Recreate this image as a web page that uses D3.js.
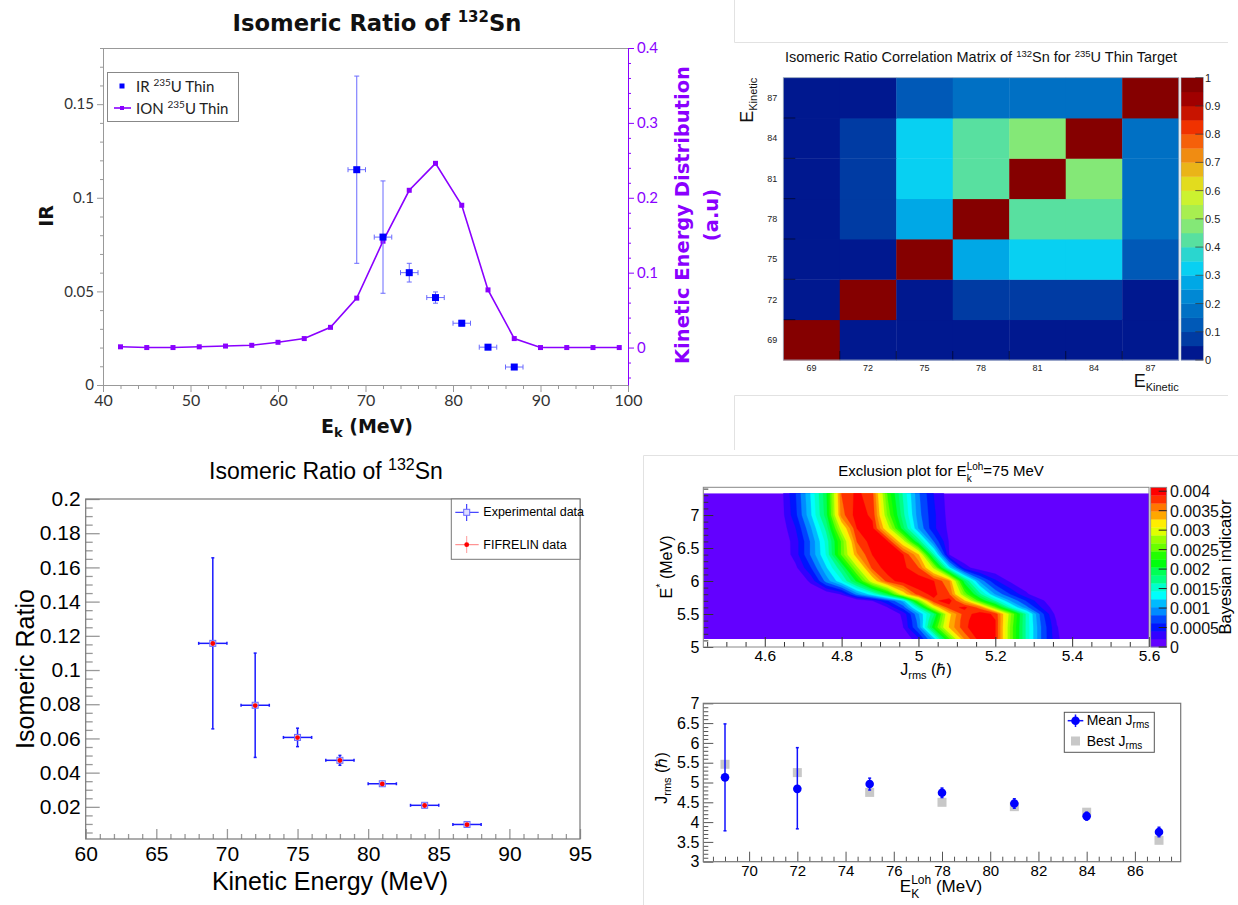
<!DOCTYPE html>
<html><head><meta charset="utf-8">
<script src="https://cdn.jsdelivr.net/npm/d3@7"></script>
<style>body{margin:0;background:#fff} svg{display:block}</style>
</head><body>
<svg id="chart" width="1238" height="905"></svg>
<script>
// ================= DATA =================
// Panel 1 : Isomeric ratio + kinetic energy distribution
const ionEnergy = [42,45,48,51,54,57,60,63,66,69,72,75,78,81,84,87,90,93,96,99];
const ionValues = [0.001,0,0,0.001,0.002,0.003,0.007,0.012,0.027,0.066,0.142,0.210,0.246,0.190,0.077,0.012,0,0,0,0];
const irEnergy = [69,72,75,78,81,84,87];
const irValues = [0.115,0.079,0.060,0.0467,0.033,0.0202,0.0096];
const irErrors = [0.050,0.030,0.005,0.003,0.0015,0.001,0.0008];
const irEnergyErr = [1,1,1,1,1,1,1];
const p1XTicks = [40,50,60,70,80,90,100];
const p1YTicks = [0,0.05,0.1,0.15];
const p1YLabels = ["0","0.05","0.1","0.15"];
const p1Y2Ticks = [0,0.1,0.2,0.3,0.4];
const p1Y2Labels = ["0","0.1","0.2","0.3","0.4"];

// Panel 2 : correlation matrix
const corrEnergy = [69,72,75,78,81,84,87];
const corrMatrix = [
  [1.00,0.02,0.02,0.02,0.02,0.02,0.02],
  [0.02,1.00,0.02,0.08,0.08,0.08,0.02],
  [0.02,0.02,1.00,0.28,0.33,0.33,0.13],
  [0.02,0.08,0.28,1.00,0.43,0.43,0.18],
  [0.02,0.08,0.33,0.43,1.00,0.48,0.18],
  [0.02,0.08,0.33,0.43,0.48,1.00,0.18],
  [0.02,0.02,0.13,0.18,0.18,0.18,1.00]
];
const corrBarTicks = [0,0.1,0.2,0.3,0.4,0.5,0.6,0.7,0.8,0.9,1];
const corrBarLabels = ["0","0.1","0.2","0.3","0.4","0.5","0.6","0.7","0.8","0.9","1"];

// Panel 3 : isomeric ratio, experiment vs FIFRELIN
const expEnergy = [69,72,75,78,81,84,87];
const expValues = [0.1156,0.0794,0.0606,0.0472,0.0335,0.0209,0.0097];
const expErrors = [0.050,0.0305,0.0054,0.0029,0.0013,0.0008,0.0006];
const expEnergyErr = [1,1,1,1,1,1,1];
const fifrelinValues = [0.1155,0.0792,0.0605,0.0471,0.0334,0.0208,0.0096];
const p3XTicks = [60,65,70,75,80,85,90,95];
const p3YTicks = [0.02,0.04,0.06,0.08,0.1,0.12,0.14,0.16,0.18,0.2];
const p3YLabels = ["0.02","0.04","0.06","0.08","0.1","0.12","0.14","0.16","0.18","0.2"];

// Panel 4 : exclusion plot (Bayesian indicator, units of 1e-3)
const jrmsGrid = [4.44,4.48,4.52,4.56,4.60,4.64,4.68,4.72,4.76,4.80,4.84,4.88,4.92,4.96,5.00,5.04,5.08,5.12,5.16,5.20,5.24,5.28,5.32,5.36,5.40,5.44,5.48,5.52,5.56,5.60];
const eStarRows = [5.12,5.3,5.4,5.5,5.6,5.7,5.8,6.0,6.2,6.4,6.6,6.8,7.0,7.33];
const ridgeStart = [4.96,4.92,4.92,4.92,4.88,4.84,4.76,4.68,4.64,4.64,4.64,4.64,4.64,4.64];
const ridgeValues = [
  [0,0.35,1.1,2.4,3.5,4.0,3.9,2.6,1.6,0.8,0.25,0],
  [0,0.2,0.85,2.2,3.3,3.85,4.05,3.9,2.6,1.6,0.8,0.22,0],
  [0,0.22,0.9,2.0,3.25,3.85,4.0,3.9,2.65,1.6,0.75,0.18,0],
  [0,0.25,1.0,1.8,3.2,3.8,4.0,3.85,2.7,1.6,0.7,0.1,0],
  [0,0.2,0.7,1.6,3.0,3.8,3.95,3.6,2.5,1.5,0.9,0.4,0.05,0],
  [0,0.2,0.6,1.1,2.6,3.85,4.0,3.3,2.3,1.6,1.0,0.6,0.25,0],
  [0,0.22,0.9,1.35,2.0,3.1,3.8,3.95,3.7,2.6,1.7,1.0,0.6,0.25,0],
  [0,0.25,0.9,1.4,2.1,3.05,3.8,4.0,4.05,3.9,3.5,1.9,0.95,0.45,0.15,0],
  [0,0.15,0.6,1.2,1.8,2.8,3.75,4.0,3.95,3.7,2.8,1.3,0.3,0.05,0],
  [0,0.3,0.85,1.45,2.5,3.45,3.9,4.05,3.9,3.3,1.6,0.2,0],
  [0.02,0.3,0.85,1.5,2.5,3.7,4.0,3.9,3.0,1.8,0.8,0.18,0],
  [0.05,0.4,1.0,1.7,3.0,3.9,3.95,3.0,1.9,1.0,0.45,0.15,0],
  [0.08,0.55,1.2,1.95,3.6,4.0,3.85,2.6,1.7,0.9,0.45,0.12,0],
  [0.1,0.6,1.25,2.0,3.7,3.95,3.75,2.4,1.6,0.85,0.4,0.1,0]
];
const indicatorMax = 4.1; // x 1e-3
const p4XTicks = [4.6,4.8,5.0,5.2,5.4,5.6];
const p4XLabels = ["4.6","4.8","5","5.2","5.4","5.6"];
const p4YTicks = [5,5.5,6,6.5,7];
const p4YLabels = ["5","5.5","6","6.5","7"];
const p4BarTicks = [0,0.5,1,1.5,2,2.5,3,3.5,4];
const p4BarLabels = ["0","0.0005","0.001","0.0015","0.002","0.0025","0.003","0.0035","0.004"];

// Panel 5 : J_rms
const jEnergy = [69,72,75,78,81,84,87];
const meanJ = [5.13,4.84,4.96,4.74,4.47,4.15,3.75];
const meanJErrUp = [1.35,1.04,0.15,0.12,0.12,0.10,0.12];
const meanJErrDown = [1.35,1.01,0.15,0.12,0.12,0.10,0.12];
const bestJ = [5.46,5.25,4.75,4.50,4.39,4.25,3.54];
const p5XTicks = [70,72,74,76,78,80,82,84,86];
const p5YTicks = [3,3.5,4,4.5,5,5.5,6,6.5,7];
const p5YLabels = ["3","3.5","4","4.5","5","5.5","6","6.5","7"];

// ================= STYLES =================
const ROOTF = "'Liberation Sans', Arial, Helvetica, sans-serif";
const LATO = "Lato, 'Open Sans', sans-serif";
const DJB = "'DejaVu Sans', Verdana, sans-serif";
const PURPLE = '#8a00ff';
const corrPalette = ['#00188f','#003ba3','#0059b7','#0070c4','#0088d4','#00a8e6','#08d0f2','#2ad6cf','#58e0a0','#84e877',
                     '#a8ee50','#ccf230','#e2dc1e','#eab418','#f08c12','#f5600a','#f03200','#c81400','#a00000','#850000'];
const exclColor = k => { const idx = Math.floor((k + 0.99) * 50 / 20); return d3.hsl(280 - (idx + 1) * 5.6, 1, 0.5).formatHex(); };

const svg = d3.select('#chart');

// ---------- helpers ----------
function rich(textSel, parts) {
  let shift = 0;
  parts.forEach(p => {
    const s = p.shift || 0;
    const ts = textSel.append('tspan').text(p.t);
    if (s - shift !== 0) ts.attr('dy', s - shift);
    if (p.size) ts.attr('font-size', p.size);
    shift = s;
  });
  return textSel;
}
function addText(parent, x, y, parts, o) {
  const t = parent.append('text').attr('x', x).attr('y', y)
    .attr('font-family', o.font).attr('font-size', o.size)
    .attr('text-anchor', o.anchor || 'start').attr('fill', o.fill || '#000');
  if (o.weight) t.attr('font-weight', o.weight);
  if (o.baseline) t.attr('dominant-baseline', o.baseline);
  if (o.rotate) t.attr('transform', `rotate(${o.rotate},${x},${y})`);
  rich(t, typeof parts === 'string' ? [{t: parts}] : parts);
  return t;
}
function axis(parent, orient, scale, o) {
  const make = {bottom: d3.axisBottom, top: d3.axisTop, left: d3.axisLeft, right: d3.axisRight}[orient];
  const g = parent.append('g').attr('transform', o.transform || null);
  if (o.minor) {
    const gm = g.append('g').call(make(scale).tickValues(o.minor).tickSize(o.minorSize).tickSizeOuter(0).tickFormat(''));
    gm.select('.domain').remove();
    gm.selectAll('.tick line').attr('stroke', o.stroke).attr('stroke-width', o.width || 1);
    gm.selectAll('.tick text').remove();
  }
  const labels = o.labels;
  const gM = g.append('g').call(make(scale).tickValues(o.major).tickSize(o.majorSize).tickSizeOuter(0)
      .tickPadding(o.padding).tickFormat((d, i) => labels ? labels[i] : d));
  if (o.noDomain) gM.select('.domain').remove();
  else gM.select('.domain').attr('stroke', o.stroke).attr('stroke-width', o.width || 1);
  gM.selectAll('.tick line').attr('stroke', o.stroke).attr('stroke-width', o.width || 1);
  gM.attr('font-family', o.font).attr('font-size', o.size);
  gM.selectAll('.tick text').attr('fill', o.color || '#000');
  if (o.weight) gM.selectAll('.tick text').attr('font-weight', o.weight);
  return g;
}
const minorRange = (a, b, s, majors) => d3.range(Math.round((b - a) / s) + 1).map(i => +(a + i * s).toFixed(6))
  .filter(v => !majors.some(m => Math.abs(m - v) < s / 10));

// ---------- separators (screenshot frames) ----------
const sep = svg.append('g').attr('stroke', '#e2e2e2').attr('stroke-width', 1).attr('fill', 'none');
sep.append('path').attr('d', 'M734.5,0 V42.5 H1228');
sep.append('path').attr('d', 'M1228,395.5 H734.5 V450');
sep.append('path').attr('d', 'M643.5,905 V455.5 H1238');

// ================= PANEL 1 =================
{
  const P = {l: 103, r: 628, t: 48, b: 385};
  const x = d3.scaleLinear().domain([40, 100]).range([P.l, P.r]);
  const y = d3.scaleLinear().domain([0, 0.18]).range([P.b, P.t]);
  const y2 = d3.scaleLinear().domain([-0.05, 0.4]).range([P.b, P.t]);
  const g = svg.append('g');
  g.append('line').attr('x1', P.l).attr('x2', P.r).attr('y1', P.t + 0.5).attr('y2', P.t + 0.5).attr('stroke', '#999');
  axis(g, 'left', y, {transform: `translate(${P.l},0)`, major: p1YTicks, labels: p1YLabels, majorSize: 6,
    minor: minorRange(0, 0.18, 0.01, p1YTicks), minorSize: 3, padding: 3, stroke: '#999', font: LATO, size: 15, color: '#333'});
  axis(g, 'bottom', x, {transform: `translate(0,${P.b})`, major: p1XTicks, majorSize: 7,
    minor: minorRange(40, 100, 2, p1XTicks), minorSize: 4, padding: 3, stroke: '#999', font: LATO, size: 16, color: '#333'});
  axis(g, 'right', y2, {transform: `translate(${P.r},0)`, major: p1Y2Ticks, labels: p1Y2Labels, majorSize: 6,
    minor: minorRange(-0.04, 0.4, 0.02, p1Y2Ticks), minorSize: 3, padding: 3, stroke: PURPLE, font: LATO, size: 15, color: PURPLE});
  addText(g, 377, 31, [{t: 'Isomeric Ratio of '}, {t: '132', size: 15, shift: -9}, {t: 'Sn'}],
    {font: DJB, size: 22.7, weight: 'bold', anchor: 'middle', fill: '#111'});
  addText(g, 367, 433, [{t: 'E'}, {t: 'k', size: 13, shift: 4}, {t: ' (MeV)'}],
    {font: DJB, size: 19, weight: 'bold', anchor: 'middle', fill: '#111'});
  addText(g, 53, 216, 'IR', {font: DJB, size: 19, weight: 'bold', anchor: 'middle', rotate: -90, fill: '#111'});
  addText(g, 689, 215, 'Kinetic Energy Distribution', {font: DJB, size: 19.5, weight: 'bold', anchor: 'middle', rotate: -90, fill: PURPLE});
  addText(g, 718, 215, '(a.u)', {font: DJB, size: 19.5, weight: 'bold', anchor: 'middle', rotate: -90, fill: PURPLE});
  g.append('path').datum(ionEnergy.map((e, i) => [e, ionValues[i]]))
    .attr('d', d3.line().x(d => x(d[0])).y(d => y2(d[1])))
    .attr('fill', 'none').attr('stroke', PURPLE).attr('stroke-width', 1.6);
  g.selectAll('.ionm').data(ionEnergy).join('rect')
    .attr('x', (d) => x(d) - 2.5).attr('y', (d, i) => y2(ionValues[i]) - 2.5).attr('width', 5).attr('height', 5).attr('fill', PURPLE);
  const eb = g.append('g').attr('stroke', '#6a6aff').attr('stroke-width', 1);
  irEnergy.forEach((e, i) => {
    const cx = x(e), cy = y(irValues[i]);
    const yt = y(irValues[i] + irErrors[i]), yb = y(irValues[i] - irErrors[i]);
    const xl = x(e - irEnergyErr[i]), xr = x(e + irEnergyErr[i]);
    eb.append('line').attr('x1', cx).attr('x2', cx).attr('y1', yt).attr('y2', yb);
    eb.append('line').attr('x1', cx - 2.5).attr('x2', cx + 2.5).attr('y1', yt).attr('y2', yt);
    eb.append('line').attr('x1', cx - 2.5).attr('x2', cx + 2.5).attr('y1', yb).attr('y2', yb);
    eb.append('line').attr('x1', xl).attr('x2', xr).attr('y1', cy).attr('y2', cy);
    eb.append('line').attr('x1', xl).attr('x2', xl).attr('y1', cy - 2.5).attr('y2', cy + 2.5);
    eb.append('line').attr('x1', xr).attr('x2', xr).attr('y1', cy - 2.5).attr('y2', cy + 2.5);
  });
  g.selectAll('.irm').data(irEnergy).join('rect')
    .attr('x', d => x(d) - 3.5).attr('y', (d, i) => y(irValues[i]) - 3.5).attr('width', 7).attr('height', 7).attr('fill', '#0000ff');
  const lg = g.append('g');
  lg.append('rect').attr('x', 107.5).attr('y', 72.5).attr('width', 131).attr('height', 49).attr('fill', '#fff').attr('stroke', '#888');
  lg.append('rect').attr('x', 119.5).attr('y', 83.5).attr('width', 5).attr('height', 5).attr('fill', '#0000ff');
  lg.append('line').attr('x1', 114).attr('x2', 131).attr('y1', 108).attr('y2', 108).attr('stroke', PURPLE).attr('stroke-width', 1.6);
  lg.append('rect').attr('x', 120).attr('y', 106).attr('width', 4).attr('height', 4).attr('fill', PURPLE);
  addText(lg, 136, 92, [{t: 'IR '}, {t: '235', size: 10, shift: -6}, {t: 'U Thin'}], {font: LATO, size: 15, fill: '#222'});
  addText(lg, 136, 114, [{t: 'ION '}, {t: '235', size: 10, shift: -6}, {t: 'U Thin'}], {font: LATO, size: 15, fill: '#222'});
}

// ================= PANEL 2 =================
{
  const P = {l: 783.3, r: 1178.7, t: 77.7, b: 360};
  const g = svg.append('g');
  const x = d3.scaleBand().domain(corrEnergy).range([P.l, P.r]);
  const y = d3.scaleBand().domain([...corrEnergy].reverse()).range([P.t, P.b]);
  const col = v => corrPalette[Math.min(19, Math.floor(v * 20 + 1e-9))];
  corrMatrix.forEach((row, i) => row.forEach((v, j) => {
    g.append('rect').attr('x', x(corrEnergy[j])).attr('y', y(corrEnergy[i]))
      .attr('width', x.bandwidth() + 0.4).attr('height', y.bandwidth() + 0.4).attr('fill', col(v));
  }));
  const tk = g.append('g').attr('stroke', '#000').attr('stroke-opacity', 0.55);
  corrEnergy.forEach((e, i) => {
    if (i > 0) {
      const yy = y(e) + y.bandwidth();
      tk.append('line').attr('x1', P.l).attr('x2', P.l + 12).attr('y1', yy).attr('y2', yy);
      const xx = x(e);
      tk.append('line').attr('x1', xx).attr('x2', xx).attr('y1', P.b).attr('y2', P.b - 9);
    }
  });
  g.append('rect').attr('x', P.l).attr('y', P.t).attr('width', P.r - P.l).attr('height', P.b - P.t)
    .attr('fill', 'none').attr('stroke', '#9ab').attr('stroke-width', 0.8);
  corrEnergy.forEach(e => {
    addText(g, P.l - 6, y(e) + y.bandwidth() / 2, String(e), {font: ROOTF, size: 9, anchor: 'end', baseline: 'central', fill: '#222'});
    addText(g, x(e) + x.bandwidth() / 2, 371, String(e), {font: ROOTF, size: 9, anchor: 'middle', fill: '#222'});
  });
  const cb = d3.scaleLinear().domain([0, 1]).range([P.b, P.t]);
  const CB = {l: 1181, r: 1203.3};
  d3.range(20).forEach(k => {
    g.append('rect').attr('x', CB.l).attr('y', cb((k + 1) / 20)).attr('width', CB.r - CB.l)
      .attr('height', cb(k / 20) - cb((k + 1) / 20) + 0.3).attr('fill', corrPalette[k]);
  });
  g.append('rect').attr('x', CB.l).attr('y', P.t).attr('width', CB.r - CB.l).attr('height', P.b - P.t)
    .attr('fill', 'none').attr('stroke', '#9ab').attr('stroke-width', 0.6);
  corrBarTicks.forEach((v, i) => {
    g.append('line').attr('x1', CB.r - 8).attr('x2', CB.r).attr('y1', cb(v)).attr('y2', cb(v)).attr('stroke', '#333').attr('stroke-opacity', 0.7);
    addText(g, 1205, cb(v), corrBarLabels[i], {font: ROOTF, size: 11, baseline: 'central', fill: '#222'});
  });
  addText(g, 981, 62, [{t: 'Isomeric Ratio Correlation Matrix of '}, {t: '132', size: 9.5, shift: -5}, {t: 'Sn for '},
    {t: '235', size: 9.5, shift: -5}, {t: 'U Thin Target'}], {font: ROOTF, size: 14.5, anchor: 'middle', fill: '#111'});
  addText(g, 753, P.t, [{t: 'E'}, {t: 'Kinetic', size: 11, shift: 4}], {font: ROOTF, size: 18, anchor: 'end', rotate: -90, fill: '#111'});
  addText(g, P.r, 387, [{t: 'E'}, {t: 'Kinetic', size: 11, shift: 4}], {font: ROOTF, size: 18, anchor: 'end', fill: '#111'});
}

// ================= PANEL 3 =================
{
  const P = {l: 85.7, r: 580, t: 499, b: 839};
  const g = svg.append('g');
  const x = d3.scaleLinear().domain([60, 95]).range([P.l, P.r]);
  const y = d3.scaleLinear().domain([0.0012, 0.2]).range([P.b, P.t]);
  axis(g, 'left', y, {transform: `translate(${P.l},0)`, major: p3YTicks, labels: p3YLabels, majorSize: -14,
    minor: minorRange(0.005, 0.195, 0.005, p3YTicks), minorSize: -7, padding: 5, stroke: '#999', width: 1.3,
    font: ROOTF, size: 21, noDomain: true});
  axis(g, 'bottom', x, {transform: `translate(0,${P.b})`, major: p3XTicks, majorSize: -10,
    minor: minorRange(60, 95, 1, p3XTicks), minorSize: -5, padding: 7, stroke: '#999', width: 1.3,
    font: ROOTF, size: 21, noDomain: true});
  g.append('rect').attr('x', P.l).attr('y', P.t).attr('width', P.r - P.l).attr('height', P.b - P.t)
    .attr('fill', 'none').attr('stroke', '#777').attr('stroke-width', 1.2);
  addText(g, 326, 479, [{t: 'Isomeric Ratio of '}, {t: '132', size: 16, shift: -9}, {t: 'Sn'}], {font: ROOTF, size: 23, anchor: 'middle'});
  addText(g, 330, 890, 'Kinetic Energy (MeV)', {font: ROOTF, size: 25, anchor: 'middle'});
  addText(g, 34, 669, 'Isomeric Ratio', {font: ROOTF, size: 25, anchor: 'middle', rotate: -90});
  const eb = g.append('g').attr('stroke', '#1a1aff').attr('stroke-width', 1.5);
  expEnergy.forEach((e, i) => {
    const cx = x(e), cy = y(expValues[i]);
    const yt = y(expValues[i] + expErrors[i]), yb = y(expValues[i] - expErrors[i]);
    const xl = x(e - expEnergyErr[i]), xr = x(e + expEnergyErr[i]);
    eb.append('line').attr('x1', cx).attr('x2', cx).attr('y1', yt).attr('y2', yb);
    eb.append('line').attr('x1', cx - 1.5).attr('x2', cx + 1.5).attr('y1', yt).attr('y2', yt);
    eb.append('line').attr('x1', cx - 1.5).attr('x2', cx + 1.5).attr('y1', yb).attr('y2', yb);
    eb.append('line').attr('x1', xl).attr('x2', xr).attr('y1', cy).attr('y2', cy);
    eb.append('line').attr('x1', xl).attr('x2', xl).attr('y1', cy - 1.5).attr('y2', cy + 1.5);
    eb.append('line').attr('x1', xr).attr('x2', xr).attr('y1', cy - 1.5).attr('y2', cy + 1.5);
  });
  g.selectAll('.expm').data(expEnergy).join('rect')
    .attr('x', d => x(d) - 3).attr('y', (d, i) => y(expValues[i]) - 3).attr('width', 6).attr('height', 6)
    .attr('fill', '#dcdcff').attr('stroke', '#6b6bff').attr('stroke-width', 1);
  g.selectAll('.fifm').data(expEnergy).join('circle')
    .attr('cx', d => x(d)).attr('cy', (d, i) => y(fifrelinValues[i])).attr('r', 2.4).attr('fill', '#ff0000');
  const lg = g.append('g');
  lg.append('rect').attr('x', 451.3).attr('y', P.t).attr('width', P.r - 451.3).attr('height', 60.3).attr('fill', '#fff').attr('stroke', '#777');
  lg.append('line').attr('x1', 455.3).attr('x2', 478.7).attr('y1', 512.3).attr('y2', 512.3).attr('stroke', '#1a1aff');
  lg.append('line').attr('x1', 466.7).attr('x2', 466.7).attr('y1', 504).attr('y2', 521).attr('stroke', '#1a1aff');
  lg.append('rect').attr('x', 463.7).attr('y', 509.3).attr('width', 6).attr('height', 6).attr('fill', '#dcdcff').attr('stroke', '#6b6bff');
  lg.append('line').attr('x1', 455.3).attr('x2', 478.7).attr('y1', 544.7).attr('y2', 544.7).attr('stroke', '#ff7a7a');
  lg.append('line').attr('x1', 466.7).attr('x2', 466.7).attr('y1', 536).attr('y2', 553).attr('stroke', '#ff9a9a');
  lg.append('circle').attr('cx', 466.7).attr('cy', 544.7).attr('r', 2.4).attr('fill', '#ff0000');
  addText(lg, 483.3, 512.3, 'Experimental data', {font: ROOTF, size: 12.5, baseline: 'central'});
  addText(lg, 483.3, 544.7, 'FIFRELIN data', {font: ROOTF, size: 12.5, baseline: 'central'});
}

// ================= PANEL 4 =================
{
  const P = {l: 703.3, r: 1149, t: 487.3, b: 647};
  const g = svg.append('g');
  const x = d3.scaleLinear().domain([4.44, 5.6]).range([P.l, P.r]);
  const y = d3.scaleLinear().domain([5, 7.42]).range([P.b, P.t]);
  const n = jrmsGrid.length, m = eStarRows.length;
  const grid = new Array(n * m).fill(0);
  eStarRows.forEach((e, r) => {
    const s = jrmsGrid.findIndex(j => Math.abs(j - ridgeStart[r]) < 1e-6);
    ridgeValues[r].forEach((v, i) => { grid[r * n + s + i] = v; });
  });
  const thresholds = d3.range(1, 20).map(k => k * indicatorMax / 20);
  const contours = d3.contours().size([n, m]).thresholds(thresholds)(grid);
  const jIdx = d3.scaleLinear().domain(d3.range(n)).range(jrmsGrid);
  const eIdx = d3.scaleLinear().domain(d3.range(m)).range(eStarRows);
  const proj = d3.geoTransform({point(px, py) { this.stream.point(x(jIdx(px - 0.5)), y(eIdx(py - 0.5))); }});
  const path = d3.geoPath(proj);
  const x0 = x(jrmsGrid[0]), x1 = x(jrmsGrid[n - 1]), yTop = y(eStarRows[m - 1]), yBot = y(eStarRows[0]);
  svg.append('defs').append('clipPath').attr('id', 'exclClip').append('rect')
    .attr('x', x0).attr('y', yTop).attr('width', x1 - x0).attr('height', yBot - yTop);
  const cg = g.append('g').attr('clip-path', 'url(#exclClip)');
  cg.append('rect').attr('x', x0).attr('y', yTop).attr('width', x1 - x0).attr('height', yBot - yTop).attr('fill', exclColor(0));
  contours.forEach((c, k) => {
    cg.append('path').attr('d', path(c)).attr('fill', exclColor(k + 1)).attr('stroke', exclColor(k + 1)).attr('stroke-width', 0.3);
  });
  axis(g, 'left', y, {transform: `translate(${P.l},0)`, major: p4YTicks, labels: p4YLabels, majorSize: -10,
    minor: minorRange(5, 7.4, 0.1, p4YTicks), minorSize: -5, padding: 4, stroke: '#333', font: ROOTF, size: 16, noDomain: true});
  axis(g, 'bottom', x, {transform: `translate(0,${P.b})`, major: p4XTicks, labels: p4XLabels, majorSize: -10,
    minor: minorRange(4.45, 5.6, 0.05, p4XTicks), minorSize: -5, padding: 3, stroke: '#333', font: ROOTF, size: 15.5, noDomain: true});
  g.append('rect').attr('x', P.l).attr('y', P.t).attr('width', P.r - P.l).attr('height', P.b - P.t)
    .attr('fill', 'none').attr('stroke', '#888').attr('stroke-width', 1);
  const cb = d3.scaleLinear().domain([0, indicatorMax]).range([P.b, P.t]);
  const CB = {l: 1150.7, r: 1166.7};
  d3.range(20).forEach(k => {
    g.append('rect').attr('x', CB.l).attr('y', cb((k + 1) * indicatorMax / 20)).attr('width', CB.r - CB.l)
      .attr('height', cb(k * indicatorMax / 20) - cb((k + 1) * indicatorMax / 20) + 0.3).attr('fill', exclColor(k));
  });
  g.append('rect').attr('x', CB.l).attr('y', P.t).attr('width', CB.r - CB.l).attr('height', P.b - P.t)
    .attr('fill', 'none').attr('stroke', '#888').attr('stroke-width', 0.8);
  p4BarTicks.forEach((v, i) => {
    g.append('line').attr('x1', CB.r - 8).attr('x2', CB.r).attr('y1', cb(v)).attr('y2', cb(v)).attr('stroke', '#222');
    addText(g, 1170, cb(v), p4BarLabels[i], {font: ROOTF, size: 16, baseline: 'central', fill: '#111'});
  });
  addText(g, 1231, 567, 'Bayesian indicator', {font: ROOTF, size: 16.5, anchor: 'middle', rotate: -90});
  const tt = addText(g, 941, 476, [{t: 'Exclusion plot for E'}, {t: 'Loh', size: 10, shift: -6}, {t: '=75 MeV'}],
    {font: ROOTF, size: 15, anchor: 'middle'});
  const lohX = tt.node().getStartPositionOfChar(20).x;
  addText(g, lohX, 482, 'k', {font: ROOTF, size: 10});
  addText(g, 926, 675, [{t: 'J'}, {t: 'rms', size: 11, shift: 4}, {t: ' (ℏ)'}], {font: ROOTF, size: 16, anchor: 'middle'});
  addText(g, 672, 567, [{t: 'E'}, {t: '*', size: 11, shift: -8}, {t: '  (MeV)'}], {font: ROOTF, size: 16, anchor: 'middle', rotate: -90});
}

// ================= PANEL 5 =================
{
  const P = {l: 703.3, r: 1180.7, t: 703.3, b: 861.7};
  const g = svg.append('g');
  const x = d3.scaleLinear().domain([68.1, 87.9]).range([P.l, P.r]);
  const y = d3.scaleLinear().domain([3, 7]).range([P.b, P.t]);
  axis(g, 'left', y, {transform: `translate(${P.l},0)`, major: p5YTicks, labels: p5YLabels, majorSize: -10,
    minor: minorRange(3, 7, 0.1, p5YTicks), minorSize: -5, padding: 4, stroke: '#555', font: ROOTF, size: 16, noDomain: true});
  axis(g, 'bottom', x, {transform: `translate(0,${P.b})`, major: p5XTicks, majorSize: -10,
    minor: minorRange(68.5, 87.5, 0.5, p5XTicks), minorSize: -5, padding: 4, stroke: '#555', font: ROOTF, size: 15, noDomain: true});
  g.append('rect').attr('x', P.l).attr('y', P.t).attr('width', P.r - P.l).attr('height', P.b - P.t)
    .attr('fill', 'none').attr('stroke', '#777').attr('stroke-width', 1.2);
  g.selectAll('.best').data(jEnergy).join('rect')
    .attr('x', d => x(d) - 4.5).attr('y', (d, i) => y(bestJ[i]) - 4.5).attr('width', 9).attr('height', 9).attr('fill', '#c8c8c8');
  const eb = g.append('g').attr('stroke', '#1010ff').attr('stroke-width', 1.5);
  jEnergy.forEach((e, i) => {
    const cx = x(e), yt = y(meanJ[i] + meanJErrUp[i]), yb = y(meanJ[i] - meanJErrDown[i]);
    eb.append('line').attr('x1', cx).attr('x2', cx).attr('y1', yt).attr('y2', yb);
    eb.append('line').attr('x1', cx - 1.5).attr('x2', cx + 1.5).attr('y1', yt).attr('y2', yt);
    eb.append('line').attr('x1', cx - 1.5).attr('x2', cx + 1.5).attr('y1', yb).attr('y2', yb);
  });
  g.selectAll('.mean').data(jEnergy).join('circle')
    .attr('cx', d => x(d)).attr('cy', (d, i) => y(meanJ[i])).attr('r', 4.3).attr('fill', '#0000ff');
  const lg = g.append('g');
  lg.append('rect').attr('x', 1064.3).attr('y', 712.3).attr('width', 90).attr('height', 40).attr('fill', '#fff').attr('stroke', '#555');
  lg.append('line').attr('x1', 1067.7).attr('x2', 1083.3).attr('y1', 720.7).attr('y2', 720.7).attr('stroke', '#1010ff').attr('stroke-width', 1.5);
  lg.append('line').attr('x1', 1075.5).attr('x2', 1075.5).attr('y1', 714.5).attr('y2', 727).attr('stroke', '#1010ff').attr('stroke-width', 1.5);
  lg.append('circle').attr('cx', 1075.5).attr('cy', 720.7).attr('r', 4.3).attr('fill', '#0000ff');
  lg.append('rect').attr('x', 1071).attr('y', 736.5).attr('width', 9).attr('height', 9).attr('fill', '#c8c8c8');
  addText(lg, 1086.7, 725, [{t: 'Mean J'}, {t: 'rms', size: 10, shift: 3}], {font: ROOTF, size: 14});
  addText(lg, 1086.7, 745.5, [{t: 'Best J'}, {t: 'rms', size: 10, shift: 3}], {font: ROOTF, size: 14});
  const tt = addText(g, 941, 892, [{t: 'E'}, {t: 'Loh', size: 12, shift: -8}, {t: ' (MeV)'}], {font: ROOTF, size: 17, anchor: 'middle'});
  const lx = tt.node().getStartPositionOfChar(1).x;
  addText(g, lx, 898, 'K', {font: ROOTF, size: 12});
  addText(g, 667, 778, [{t: 'J'}, {t: 'rms', size: 11, shift: 4}, {t: ' (ℏ)'}], {font: ROOTF, size: 16, anchor: 'middle', rotate: -90});
}
</script>
</body></html>
